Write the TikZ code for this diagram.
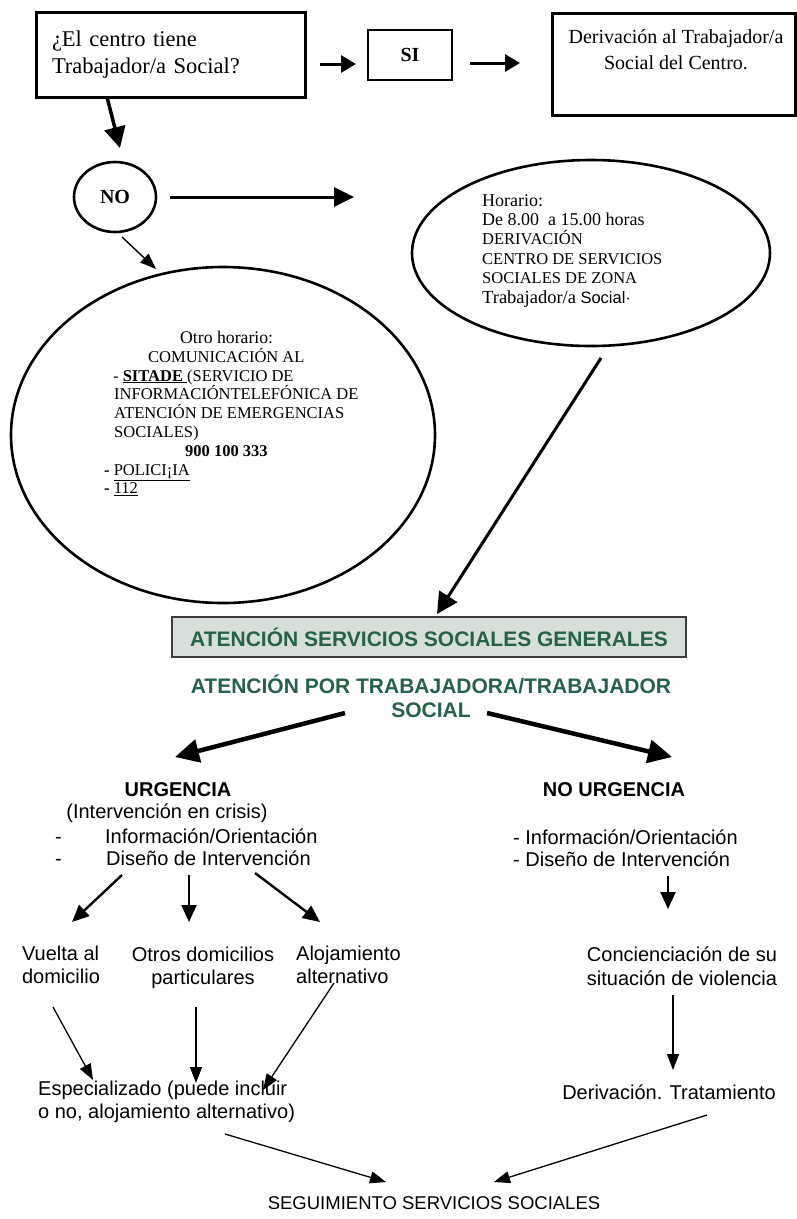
\documentclass[tikz,border=0pt]{standalone}
\usepackage{fontspec}
\setmainfont{Liberation Serif}
\setsansfont{Liberation Sans}
\usetikzlibrary{arrows.meta,shapes.geometric}
\definecolor{ssgreen}{RGB}{38,98,72}
\definecolor{ssfill}{RGB}{214,223,217}
\definecolor{ssborder}{RGB}{60,60,60}
\begin{document}
\begin{tikzpicture}[x=1pt,y=-1pt,
  bx/.style={draw,line width=3pt,inner sep=0pt},
  ell/.style={draw,ellipse,line width=2.6pt,inner sep=0pt},
  tx/.style={inner sep=0pt},
  sf/.style={inner sep=0pt,font=\sffamily\fontsize{20}{23.5}\selectfont},
  sfb/.style={inner sep=0pt,font=\sffamily\bfseries\fontsize{20}{23.5}\selectfont},
  grn/.style={inner sep=0pt,text=ssgreen,font=\sffamily\bfseries\fontsize{21}{24}\selectfont},
  arrS/.style={line width=3pt,-{Triangle[length=15pt,width=17pt]}},
  arrB/.style={line width=3.5pt,-{Triangle[length=21pt,width=21pt]}},
  arrG/.style={line width=4.5pt,-{Triangle[length=24pt,width=23pt]}},
  arrM/.style={line width=2.4pt,-{Triangle[length=17pt,width=15pt]}},
  arrT/.style={line width=1.3pt,-{Triangle[length=16pt,width=12pt]}}
]
\path[use as bounding box] (0,0) rectangle (797,1219);

% top row
\node[bx, minimum width=269pt, minimum height=85pt, text width=237pt, inner xsep=16pt,
      align=left, font=\fontsize{22.5}{27}\selectfont] (q) at (170.5,54.5)
      {¿El centro tiene\\Trabajador/a Social?};
\node[bx, line width=2.5pt, minimum width=84pt, minimum height=50pt,
      font=\bfseries\fontsize{20}{24}\selectfont] (si) at (410,55) {SI};
\node[bx, minimum width=243pt, minimum height=102pt] (der) at (673.5,64) {};
\node[tx, align=center, font=\fontsize{20}{26}\selectfont] (dertxt) at (676,50)
      {Derivación al Trabajador/a\\Social del Centro.};

\draw[arrS] ([shift={(149.5,9.5)}]q.center) -- ([shift={(-54,9)}]si.center);
\draw[arrS] ([shift={(60,8)}]si.center) -- ([shift={(-153.5,-1)}]der.center);

% NO
\node[ell, minimum width=82pt, minimum height=70pt,
      font=\bfseries\fontsize{20}{24}\selectfont] (no) at (115,197) {NO};
\draw[arrB] ([shift={(-63.5,42.5)}]q.center) -- ([shift={(5,-49)}]no.center);

% right ellipse
\node[ell, minimum width=358pt, minimum height=186pt] (hor) at (591,253) {};
\node[tx, anchor=north west, align=left, font=\fontsize{18}{19.4}\selectfont] (hortxt) at (482,194)
      {Horario:\\
       De 8.00~~a 15.00 horas\\
       {\fontsize{16.5}{19.4}\selectfont DERIVACIÓN}\\
       {\fontsize{16.5}{19.4}\selectfont CENTRO DE SERVICIOS}\\
       {\fontsize{16.5}{19.4}\selectfont SOCIALES DE ZONA}\\
       {\fontsize{18.5}{19.4}\selectfont Trabajador/a} {\sffamily\fontsize{16.5}{19.4}\selectfont Social·}};

\draw[arrS, line width=3pt, -{Triangle[length=20pt,width=19pt]}] ([shift={(55,0)}]no.center) -- ([shift={(-237,-56)}]hor.center);

% left ellipse
\node[ell, minimum width=424pt, minimum height=336pt] (otro) at (223,435) {};
\node[tx, anchor=north west, align=left, font=\fontsize{16.5}{18.8}\selectfont] (otrotxt) at (104,331)
      {\hspace*{76pt}{\fontsize{17.7}{18.8}\selectfont Otro horario:}\\
       \hspace*{44pt}COMUNICACIÓN AL\\
       \hspace*{9pt}- \underline{\textbf{SITADE }}(SERVICIO DE\\
       \hspace*{10pt}INFORMACIÓNTELEFÓNICA DE\\
       \hspace*{10pt}ATENCIÓN DE EMERGENCIAS\\
       \hspace*{10pt}SOCIALES)\\
       \hspace*{81pt}\textbf{900 100 333}\\
       \textbf{-} \underline{POLICI¡IA}\\
       \textbf{-} \underline{112}};

\draw[arrT, line width=1.4pt] ([shift={(7,40)}]no.center) -- ([shift={(-67,-166)}]otro.center);

% general attention
\node[draw=ssborder, fill=ssfill, line width=1.2pt, minimum width=514pt, minimum height=40pt,
      grn] (gen) at (429,637) {ATENCIÓN SERVICIOS SOCIALES GENERALES};
\draw[arrB, line width=3pt] ([shift={(10,105)}]hor.center) -- ([shift={(8,-23)}]gen.center);

\node[grn, align=center] (atps) at (431,696) {ATENCIÓN POR TRABAJADORA/TRABAJADOR\\SOCIAL};

% URGENCIA branch
\node[sfb] (urg) at (178,790) {URGENCIA};
\node[sf] (crisis) at (167,813) {(Intervención en crisis)};
\node[sf, anchor=west] (u1) at (55,836) {\makebox[50pt][l]{-}Información/Orientación};
\node[sf, anchor=west] (u2) at (55,858) {\makebox[51pt][l]{-}Diseño de Intervención};

\node[sfb] (nurg) at (614,790) {NO URGENCIA};
\node[sf, anchor=west] (n1) at (513,837) {- Información/Orientación};
\node[sf, anchor=west] (n2) at (513,859) {- Diseño de Intervención};

\draw[arrG] ([shift={(-86,17)}]atps.center) -- ([shift={(-3,-33)}]urg.center);
\draw[arrG] ([shift={(56,17)}]atps.center) -- ([shift={(58,-33)}]nurg.center);

\node[sf, align=left] (vuelta) at (61,965) {Vuelta al\\domicilio};
\node[sf, align=center] (otros) at (203,968) {Otros domicilios\\particulares};
\node[sf, align=left, anchor=west] (aloj) at (296,965) {Alojamiento\\alternativo};
\node[sf, align=center] (conc) at (682,966) {Concienciación de su\\situación de violencia};

\draw[arrM] ([shift={(67,17)}]u2.west) -- ([shift={(11,-43)}]vuelta.center);
\draw[arrM] ([shift={(134,17)}]u2.west) -- ([shift={(-14,-46)}]otros.center);
\draw[arrM] ([shift={(200,15)}]u2.west) -- ([shift={(24,-43)}]aloj.west);
\draw[arrM] ([shift={(155,17)}]n2.west) -- ([shift={(-14,-57)}]conc.center);

\node[sf, align=left, anchor=west] (esp) at (38,1102) {Especializado (puede incluir\\o no, alojamiento alternativo)};
\node[sf] (deriv) at (669,1092) {Derivación. Tratamiento};

\draw[arrT] ([shift={(-8,42)}]vuelta.center) -- ([shift={(55,-22)}]esp.west);
\draw[arrT] ([shift={(-7,39)}]otros.center) -- ([shift={(158,-19)}]esp.west);
\draw[arrT] ([shift={(38,18)}]aloj.west) -- ([shift={(225,-12)}]esp.west);
\draw[arrT] ([shift={(-9,29)}]conc.center) -- ([shift={(4,-22)}]deriv.center);

\node[inner sep=0pt, font=\sffamily\fontsize{18.5}{22}\selectfont] (seg) at (434,1203) {SEGUIMIENTO SERVICIOS SOCIALES};

\draw[arrT] ([shift={(187,32)}]esp.west) -- ([shift={(-48,-21)}]seg.center);
\draw[arrT] ([shift={(38,23)}]deriv.center) -- ([shift={(60,-21)}]seg.center);
\end{tikzpicture}
\end{document}
